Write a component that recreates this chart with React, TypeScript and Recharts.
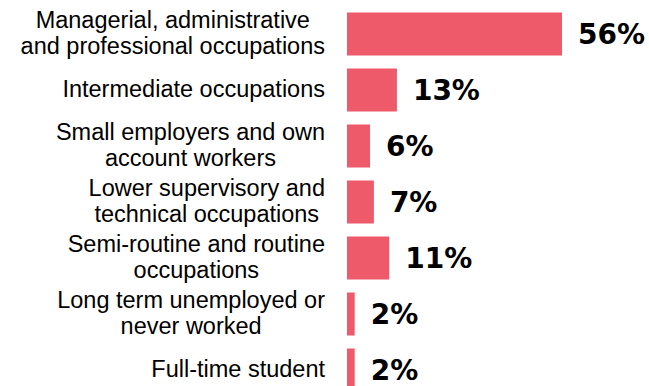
import React from "react";
import { BarChart, Bar, XAxis, YAxis, LabelList } from "recharts";

const categories = [
  "Managerial, administrative\nand professional occupations",
  "Intermediate occupations",
  "Small employers and own\naccount workers",
  "Lower supervisory and\ntechnical occupations",
  "Semi-routine and routine\noccupations",
  "Long term unemployed or\nnever worked",
  "Full-time student",
];
const values = [56, 13, 6, 7, 11, 2, 2];

const data = categories.map((name, i) => ({ name, value: values[i] }));

const LABEL_FONT = "23.5px 'Liberation Sans', Arial, sans-serif";

let ctx: CanvasRenderingContext2D | null = null;
function measure(text: string): number {
  if (!ctx) {
    const c = document.createElement("canvas");
    ctx = c.getContext("2d");
  }
  if (!ctx) return text.length * 11;
  ctx.font = LABEL_FONT;
  return ctx.measureText(text).width;
}

const CategoryTick = (props: any) => {
  const { x, y, payload } = props;
  const lines: string[] = String(payload.value).split("\n");
  const maxW = Math.max(...lines.map(measure));
  const cx = x - maxW / 2;
  const lh = 26;
  return (
    <g>
      {lines.map((ln, i) => (
        <text
          key={i}
          x={cx}
          y={y + (i - (lines.length - 1) / 2) * lh}
          dy="0.33em"
          textAnchor="middle"
          fill="#000"
          style={{ font: LABEL_FONT }}
        >
          {ln}
        </text>
      ))}
    </g>
  );
};

export default function App() {
  return (
    <div
      style={{
        position: "fixed",
        top: 0,
        left: 0,
        width: 649,
        height: 386,
        overflow: "hidden",
        background: "#fff",
      }}
    >
      <BarChart
        width={649}
        height={400}
        data={data}
        layout="vertical"
        margin={{ top: 5.5, right: 87, bottom: 2.5, left: 0 }}
      >
        <XAxis type="number" domain={[0, 56]} hide />
        <YAxis
          type="category"
          dataKey="name"
          width={347}
          axisLine={false}
          tickLine={false}
          tickSize={0}
          tickMargin={22}
          interval={0}
          tick={<CategoryTick />}
        />
        <Bar dataKey="value" fill="#EE5A6A" barSize={43} isAnimationActive={false}>
          <LabelList
            dataKey="value"
            position="right"
            offset={16}
            formatter={(v: any) => `${v}%`}
            style={{
              fontFamily: "'DejaVu Sans', sans-serif",
              fontWeight: 700,
              fontSize: 28,
              fill: "#000",
            }}
          />
        </Bar>
      </BarChart>
    </div>
  );
}
